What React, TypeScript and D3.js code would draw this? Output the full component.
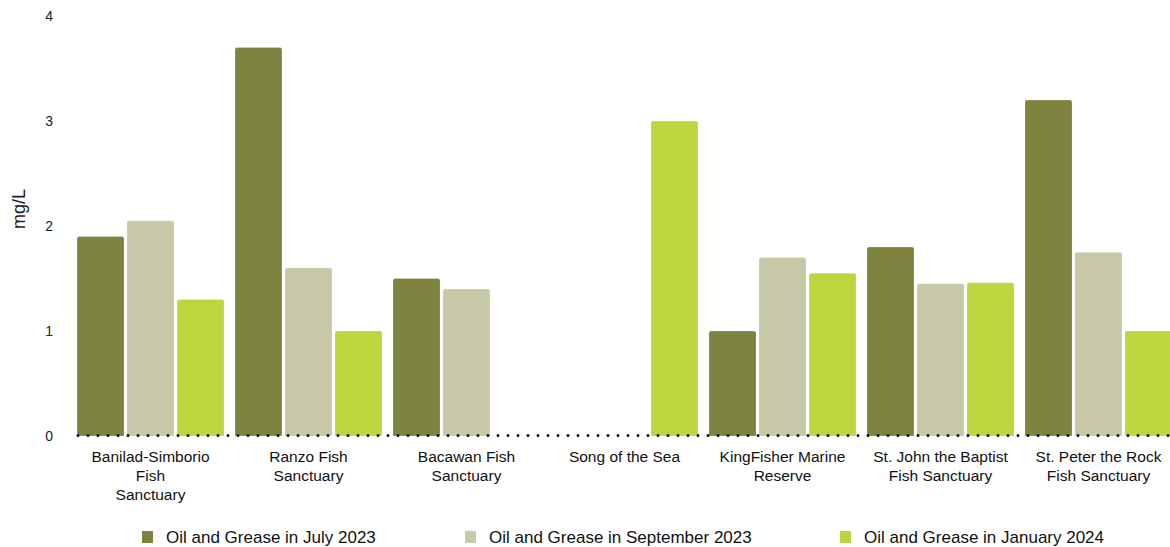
import React from "react";
import * as d3 from "d3";

const categories = [
  "Banilad-Simborio Fish Sanctuary",
  "Ranzo Fish Sanctuary",
  "Bacawan Fish Sanctuary",
  "Song of the Sea",
  "KingFisher Marine Reserve",
  "St. John the Baptist Fish Sanctuary",
  "St. Peter the Rock Fish Sanctuary",
];
const categoryLines = [
  ["Banilad-Simborio", "Fish", "Sanctuary"],
  ["Ranzo Fish", "Sanctuary"],
  ["Bacawan Fish", "Sanctuary"],
  ["Song of the Sea"],
  ["KingFisher Marine", "Reserve"],
  ["St. John the Baptist", "Fish Sanctuary"],
  ["St. Peter the Rock", "Fish Sanctuary"],
];
const seriesNames = [
  "Oil and Grease in July 2023",
  "Oil and Grease in September 2023",
  "Oil and Grease in January 2024",
];
const july2023 = [1.9, 3.7, 1.5, null, 1.0, 1.8, 3.2];
const sept2023 = [2.05, 1.6, 1.4, null, 1.7, 1.45, 1.75];
const jan2024 = [1.3, 1.0, null, 3.0, 1.55, 1.46, 1.0];
const yTicks = [0, 1, 2, 3, 4];
const colors = ["#7e8340", "#c6c8a8", "#bed63e"];

const W = 1170;
const H = 547;
const FONT = "'Liberation Sans', Arial, Helvetica, sans-serif";

export default function App() {
  const series = [july2023, sept2023, jan2024];
  const y = d3.scaleLinear().domain([0, 4]).range([436, 16]);
  const x0 = d3.scaleBand<string>().domain(categories).range([77, 77 + 158 * categories.length]).padding(0);
  const x1 = d3.scaleBand<string>().domain(seriesNames).range([0, 147]).paddingInner(0.06).paddingOuter(0);
  const clusterW = x1.range()[1];
  const legendX = d3.scaleOrdinal<string, number>().domain(seriesNames).range([142, 465, 840]);

  const barPath = (x: number, yTop: number, w: number, yBot: number) => {
    const r = Math.min(2, (yBot - yTop) / 2);
    return `M${x},${yBot}V${yTop + r}Q${x},${yTop} ${x + r},${yTop}H${x + w - r}Q${x + w},${yTop} ${x + w},${yTop + r}V${yBot}Z`;
  };

  return (
    <div style={{ position: "absolute", left: 0, top: 0, width: W, height: H, overflow: "hidden", background: "#fff" }}>
      <svg width={W} height={H} style={{ display: "block", fontFamily: FONT }}>
        {/* y tick labels */}
        {yTicks.map((t) => (
          <text key={t} x={53} y={y(t)} dy="0.35em" textAnchor="end" fontSize={14} fill="#222">
            {t}
          </text>
        ))}
        <text transform={`translate(25,209) rotate(-90)`} textAnchor="middle" fontSize={18} fill="#222">
          mg/L
        </text>
        {/* bars */}
        {categories.map((c, i) => (
          <g key={c} transform={`translate(${x0(c)},0)`}>
            {series.map((s, j) => {
              const v = s[i];
              if (v == null) return null;
              const bx = x1(seriesNames[j]) as number;
              return (
                <path
                  key={j}
                  d={barPath(bx, y(v), x1.bandwidth(), y(0))}
                  fill={colors[j]}
                  stroke="#ffffff"
                  strokeOpacity={0.4}
                  strokeWidth={0.5}
                />
              );
            })}
          </g>
        ))}
        {/* dotted baseline */}
        <line
          x1={78}
          x2={W}
          y1={y(0) - 0.5}
          y2={y(0) - 0.5}
          stroke="#111"
          strokeWidth={3}
          strokeLinecap="round"
          strokeDasharray="0,10"
        />
        {/* category labels */}
        {categories.map((c, i) => {
          const cx = (x0(c) as number) + clusterW / 2;
          return (
            <text key={c} x={cx} y={462} textAnchor="middle" fontSize={15.5} fill="#111">
              {categoryLines[i].map((ln, k) => (
                <tspan key={k} x={cx} dy={k === 0 ? 0 : 19}>
                  {ln}
                </tspan>
              ))}
            </text>
          );
        })}
        {/* legend */}
        {seriesNames.map((s, j) => (
          <g key={s} transform={`translate(${legendX(s)},531)`}>
            <rect x={0} y={0} width={11} height={12} fill={colors[j]} />
            <text x={24} y={6} dy="0.36em" fontSize={17} fill="#111">
              {s}
            </text>
          </g>
        ))}
      </svg>
    </div>
  );
}
